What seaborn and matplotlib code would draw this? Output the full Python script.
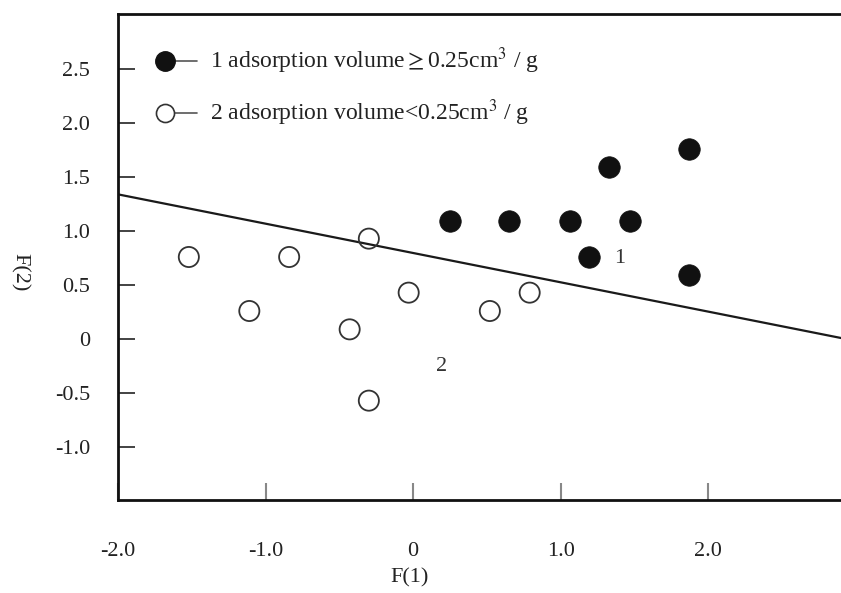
import matplotlib
matplotlib.use("Agg")
import matplotlib.pyplot as plt
import seaborn as sns
import pandas as pd
from matplotlib.lines import Line2D

# ---- data ----
group1_x = [0.25, 0.65, 1.06, 1.47, 1.33, 1.87, 1.19, 1.87]
group1_y = [1.09, 1.09, 1.09, 1.09, 1.59, 1.76, 0.76, 0.59]
group2_x = [-1.52, -1.11, -0.84, -0.30, -0.43, -0.30, -0.03, 0.52, 0.79]
group2_y = [0.76, 0.26, 0.76, 0.93, 0.09, -0.57, 0.43, 0.26, 0.43]
line_x = [-2.0, 2.9]
line_y = [1.34, 0.01]
x_ticks = [-2.0, -1.0, 0.0, 1.0, 2.0]
x_ticklabels = ["-2.0", "-1.0", "0", "1.0", "2.0"]
y_ticks = [-1.0, -0.5, 0.0, 0.5, 1.0, 1.5, 2.0, 2.5]
y_ticklabels = ["-1.0", "-0.5", "0", "0.5", "1.0", "1.5", "2.0", "2.5"]
legend_labels = ["1 adsorption volume$\\geq$0.25cm$^3$ / g",
                 "2 adsorption volume<0.25cm$^3$ / g"]
region_labels = ["1", "2"]
region_x = [1.40, 0.19]
region_y = [0.75, -0.25]

sns.set_theme(style="white")
plt.rcParams["font.family"] = ["Liberation Serif", "DejaVu Serif"]
plt.rcParams["mathtext.fontset"] = "stix"

fig = plt.figure(figsize=(8.41, 5.93), dpi=100)
ax = fig.add_axes([118/841, 1 - 500/593, 1 - 118/841, (500 - 14)/593])

df1 = pd.DataFrame({"x": group1_x, "y": group1_y})
df2 = pd.DataFrame({"x": group2_x, "y": group2_y})
sns.lineplot(x=line_x, y=line_y, ax=ax, color="#1a1a1a", linewidth=1.6, zorder=1)
sns.scatterplot(data=df1, x="x", y="y", ax=ax, s=240, color="#111111",
                edgecolor="#111111", linewidth=0.5, zorder=3)
sns.scatterplot(data=df2, x="x", y="y", ax=ax, s=210, facecolor="none",
                edgecolor="#333333", linewidth=1.3, zorder=3)

for t, xx, yy in zip(region_labels, region_x, region_y):
    ax.text(xx, yy, t, fontsize=16, color="#333333", ha="center", va="center")

# legend (marker with short line to the right)
tr = ax.transAxes
for i, lab in enumerate(legend_labels):
    yy = 1 - (47 + 52 * i) / 486
    ax.add_line(Line2D([(165 - 118) / 723, (197 - 118) / 723], [yy, yy],
                       transform=tr, color="#555555", linewidth=1.2))
    if i == 0:
        ax.plot([(165 - 118) / 723], [yy], "o", transform=tr, markersize=14,
                color="#111111")
    else:
        ax.plot([(165 - 118) / 723], [yy], "o", transform=tr, markersize=13,
                markerfacecolor="white", markeredgecolor="#333333",
                markeredgewidth=1.2)
    ax.text((210 - 118) / 723, yy, lab, transform=tr, fontsize=17,
            color="#222222", va="center", ha="left")

ax.set_xlim(-2.0, 2.9)
ax.set_ylim(-1.49, 3.01)
ax.set_xticks(x_ticks)
ax.set_xticklabels(x_ticklabels)
ax.set_yticks(y_ticks)
ax.set_yticklabels(y_ticklabels)
ax.tick_params(axis="both", direction="in", length=12, width=1.5,
               color="#888888", labelsize=16, labelcolor="#222222",
               bottom=True, left=True)
ax.tick_params(axis="x", pad=30)
ax.tick_params(axis="y", pad=20, color="#222222", width=1.2)
ax.set_xlabel("F(1)", fontsize=16, color="#222222")
ax.set_ylabel("F(2)", fontsize=16, color="#222222", rotation=270,
              va="center", ha="center")
ax.xaxis.set_label_coords((410 - 118) / 723, -(568 - 500) / 486)
ax.yaxis.set_label_coords(-(118 - 20) / 723, 1 - (272 - 14) / 486)

for side in ["left", "top", "bottom"]:
    ax.spines[side].set_linewidth(2.0)
    ax.spines[side].set_color("#111111")
ax.spines["right"].set_visible(False)

fig.savefig("out.png", dpi=100)
